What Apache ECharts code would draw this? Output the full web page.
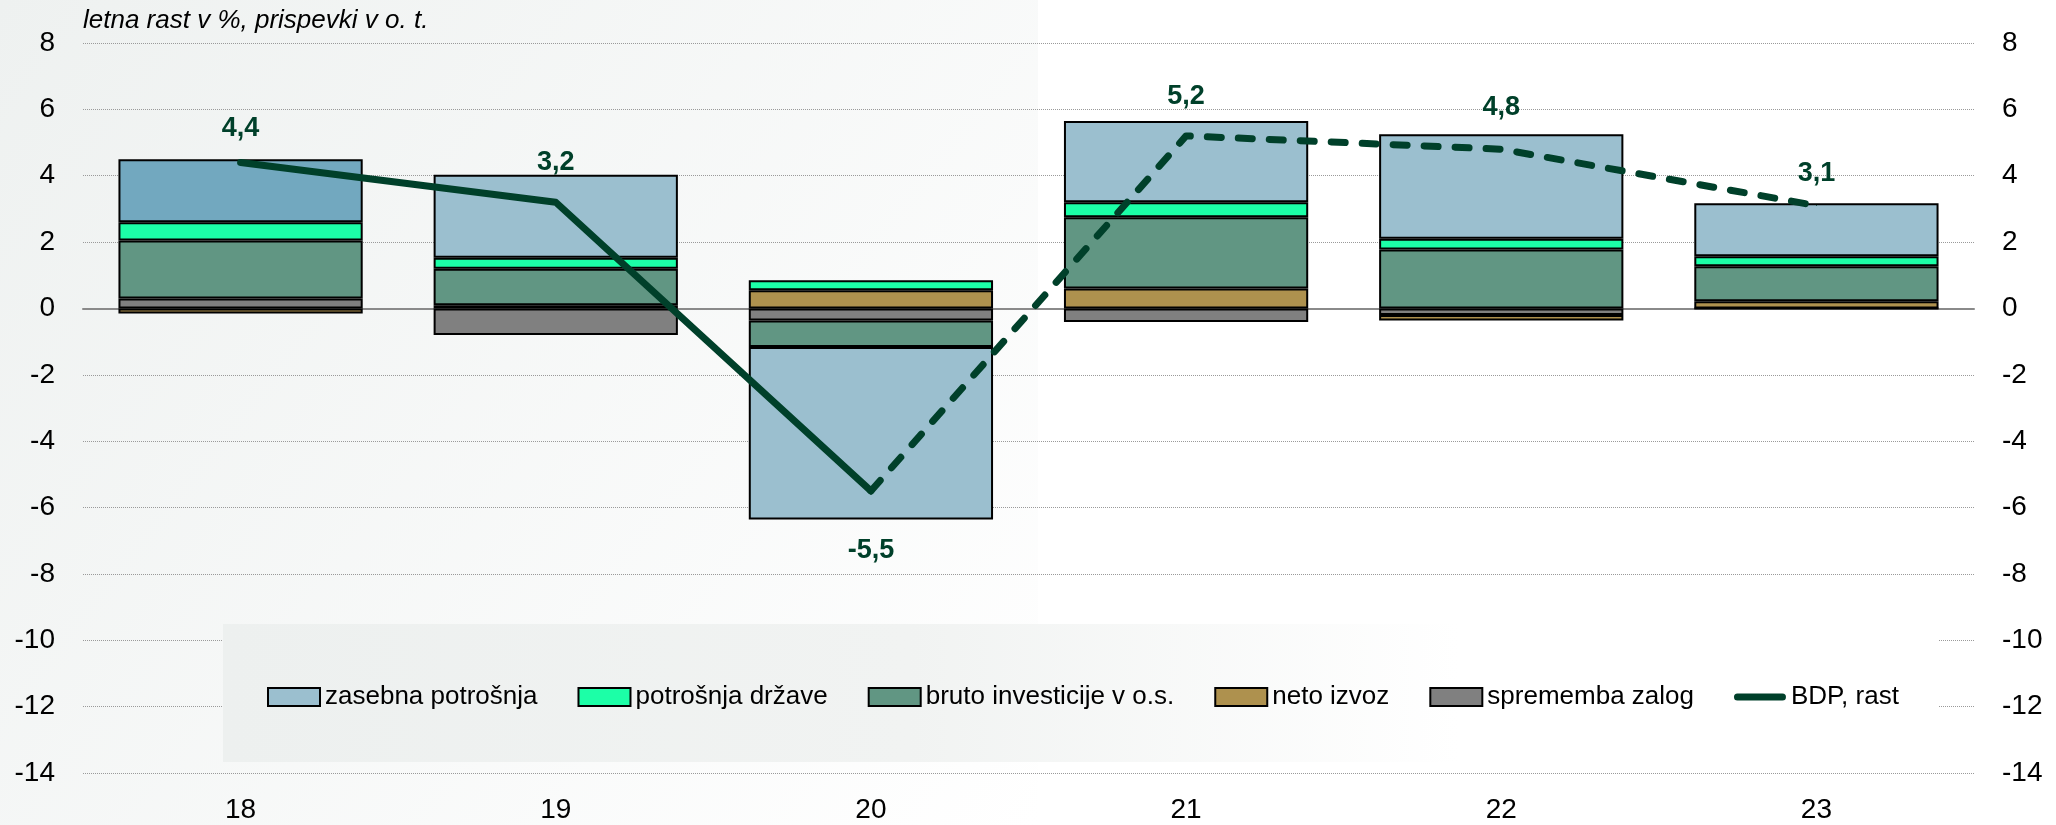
<!DOCTYPE html>
<html>
<head>
<meta charset="utf-8">
<script src="https://cdn.jsdelivr.net/npm/echarts@6/dist/echarts.min.js"></script>
<style>
html, body { margin: 0; padding: 0; background: #fff; }
#chart { width: 2056px; height: 825px; }
</style>
</head>
<body>
<div id="chart"></div>
<script>
var categories = ['18', '19', '20', '21', '22', '23'];
var zasebna = [1.9, 2.5, -5.2, 2.45, 3.15, 1.6];
var drzava = [0.55, 0.33, 0.3, 0.45, 0.32, 0.3];
var investicije = [1.75, 1.1, -0.8, 2.15, 1.78, 1.05];
var netoIzvoz = [-0.15, 0.1, 0.55, 0.6, -0.16, 0.22];
var zaloge = [0.3, -0.8, -0.36, -0.41, -0.2, 0];
var bdp = [4.4, 3.2, -5.5, 5.2, 4.8, 3.1];
var yMin = -14, yMax = 8, yStep = 2;

var font = '"Liberation Sans", Arial, sans-serif';
var lineColor = '#00402a';
var labelGap = [20, 26, 46, 25, 28, 18];

function barSeries(name, values, color) {
    return {
        name: name,
        type: 'bar',
        stack: 'prispevki',
        barWidth: '77.5%',
        itemStyle: { color: color, borderColor: '#000', borderWidth: 2 },
        data: values
    };
}

function lineData(from, to) {
    return bdp.map(function (v, i) {
        if (i < from || i > to) return '-';
        return {
            value: v,
            label: {
                position: v < 0 ? 'bottom' : 'top',
                distance: labelGap[i]
            }
        };
    });
}

var lineLabel = {
    show: true,
    color: lineColor,
    fontFamily: font,
    fontSize: 27,
    fontWeight: 'bold',
    formatter: function (p) { return String(p.value).replace('.', ','); }
};

var zasebnaData = zasebna.map(function (v, i) {
    return i === 0 ? { value: v, itemStyle: { color: '#72a8bf' } } : v;
});

var myChart = echarts.init(document.getElementById('chart'));

var option = {
    animation: false,
    textStyle: { fontFamily: font },
    title: {
        text: 'letna rast v %, prispevki v o. t.',
        left: 83,
        top: 8,
        padding: 0,
        textStyle: { fontFamily: font, fontSize: 26, fontStyle: 'italic', fontWeight: 'normal', color: '#000' }
    },
    graphic: [
        {
            type: 'rect', z: -10, silent: true,
            shape: { x: 0, y: 0, width: 1038, height: 825 },
            style: { fill: new echarts.graphic.LinearGradient(0, 0, 1, 1, [
                { offset: 0, color: '#eef1f0' }, { offset: 1, color: '#ffffff' }
            ]) }
        },
        {
            type: 'rect', z: 1, silent: true,
            shape: { x: 223, y: 624, width: 1716, height: 138 },
            style: { fill: new echarts.graphic.LinearGradient(0, 0, 1, 0, [
                { offset: 0, color: '#edf0ef' }, { offset: 0.4, color: '#f1f3f2' },
                { offset: 0.72, color: '#ffffff' }, { offset: 1, color: '#ffffff' }
            ]) }
        }
    ],
    legend: {
        left: 262,
        top: 679,
        icon: 'rect',
        itemWidth: 52,
        itemHeight: 18,
        itemGap: 40,
        textStyle: { fontFamily: font, fontSize: 26, color: '#000' },
        data: [
            'zasebna potrošnja', 'potrošnja države', 'bruto investicije v o.s.',
            'neto izvoz', 'sprememba zalog',
            {
                name: 'BDP, rast',
                icon: 'path://M3.5,0 L48.5,0 A3.5,3.5 0 0 1 48.5,7 L3.5,7 A3.5,3.5 0 0 1 3.5,0 Z',
                itemStyle: { color: lineColor, borderWidth: 0 }
            }
        ]
    },
    grid: { left: 83, right: 82, top: 43, bottom: 52, containLabel: false, outerBoundsMode: 'none' },
    xAxis: [
        {
            type: 'category',
            data: categories,
            position: 'bottom',
            axisLine: { onZero: true, show: true, lineStyle: { color: '#8a8a8a', width: 2 } },
            axisTick: { show: false },
            axisLabel: { show: false },
            splitLine: { show: false }
        },
        {
            type: 'category',
            data: categories,
            position: 'bottom',
            axisLine: { onZero: false, show: false },
            axisTick: { show: false },
            axisLabel: { margin: 23, fontFamily: font, fontSize: 28, color: '#000' },
            splitLine: { show: false }
        }
    ],
    yAxis: [
        {
            type: 'value', min: yMin, max: yMax, interval: yStep, position: 'left',
            axisLine: { show: false }, axisTick: { show: false },
            axisLabel: { margin: 28, fontFamily: font, fontSize: 28, color: '#000' },
            splitLine: { show: true, lineStyle: { color: '#9a9a9a', width: 1, type: 'dotted' } }
        },
        {
            type: 'value', min: yMin, max: yMax, interval: yStep, position: 'right',
            axisLine: { show: false }, axisTick: { show: false },
            axisLabel: { margin: 28, fontFamily: font, fontSize: 28, color: '#000' },
            splitLine: { show: false }
        }
    ],
    series: [
        barSeries('sprememba zalog', zaloge, '#808080'),
        barSeries('neto izvoz', netoIzvoz, '#ae914e'),
        barSeries('bruto investicije v o.s.', investicije, '#619683'),
        barSeries('potrošnja države', drzava, '#1cffa7'),
        barSeries('zasebna potrošnja', zasebnaData, '#9bbfcf'),
        {
            name: 'BDP, rast',
            type: 'line',
            z: 5,
            symbol: 'circle',
            symbolSize: 1,
            itemStyle: { color: lineColor },
            lineStyle: { color: lineColor, width: 7, cap: 'round', join: 'round' },
            label: lineLabel,
            data: lineData(0, 2)
        },
        {
            name: 'BDP, rast (napoved)',
            type: 'line',
            z: 5,
            symbol: 'circle',
            symbolSize: 1,
            itemStyle: { color: lineColor },
            lineStyle: { color: lineColor, width: 7, type: [14, 17], cap: 'round', join: 'round' },
            label: lineLabel,
            data: lineData(3, 5)
        }
    ]
};
option.series[6].data[2] = { value: bdp[2], label: { show: false } };

myChart.setOption(option);
</script>
</body>
</html>
